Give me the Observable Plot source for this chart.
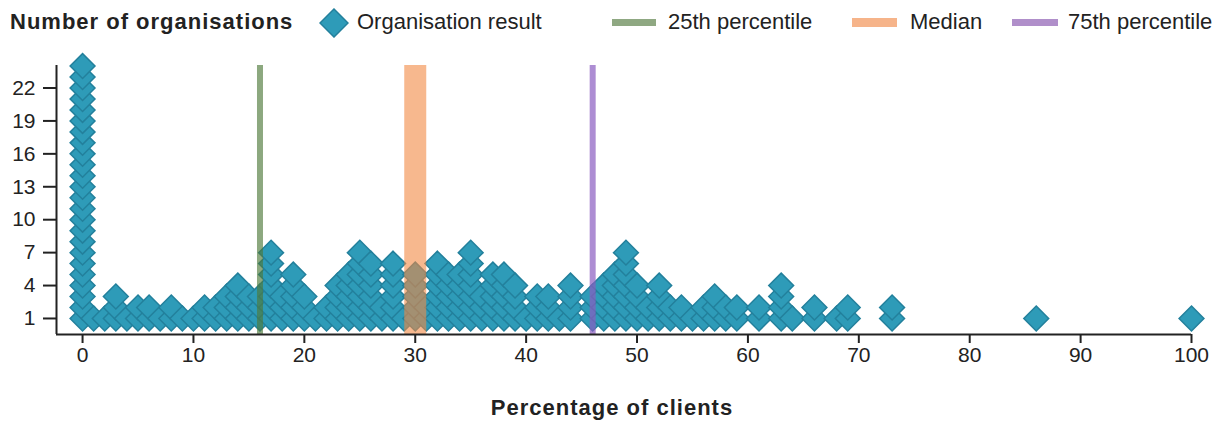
<!DOCTYPE html>
<html><head><meta charset="utf-8">
<script src="https://cdn.jsdelivr.net/npm/d3@7"></script>
<script src="https://cdn.jsdelivr.net/npm/@observablehq/plot@0.6"></script>
<style>
body{margin:0;background:#fff;font-family:"Liberation Sans",Arial,sans-serif;color:#222}
#wrap{position:relative;width:1231px;height:423px;overflow:hidden}
#legend{position:relative;height:45px;width:1231px}
.lg{position:absolute;top:9px;font-size:22px;line-height:26px;white-space:nowrap}
.sw{position:absolute}
#cap{position:absolute;left:0;top:395px;width:1224px;text-align:center;font-weight:bold;font-size:22px;line-height:26px;letter-spacing:1px}
</style></head>
<body><div id="wrap">
<div id="legend">
  <div class="lg" style="left:10px;font-weight:bold;letter-spacing:1px">Number of organisations</div>
  <svg class="sw" style="left:319px;top:8px" width="30" height="30"><polygon points="15,1 29,15 15,29 1,15" fill="#2e9bb8" stroke="#23809c" stroke-width="1.5"/></svg>
  <div class="lg" style="left:357px">Organisation result</div>
  <div class="sw" style="left:612px;top:19px;width:44px;height:7px;background:#8fa882"></div>
  <div class="lg" style="left:668px">25th percentile</div>
  <div class="sw" style="left:852px;top:18px;width:45px;height:9px;background:#f6b48a"></div>
  <div class="lg" style="left:910px">Median</div>
  <div class="sw" style="left:1012px;top:19px;width:46px;height:7px;background:#b08fca"></div>
  <div class="lg" style="left:1068px">75th percentile</div>
</div>
<div id="chart"></div>
<div id="cap">Percentage of clients</div>
</div>
<script>
// Organisation results (percentage of clients) and number of organisations at each value
const resultValues = [0,1,2,3,4,5,6,7,8,9,10,11,12,13,14,15,16,17,18,19,20,21,22,23,24,25,26,27,28,29,30,31,32,33,34,35,36,37,38,39,40,41,42,43,44,46,47,48,49,50,51,52,53,54,55,56,57,58,59,61,63,64,66,68,69,73,86,100];
const orgCounts    = [24,1,1,3,1,2,2,1,2,1,1,2,2,3,4,3,3,7,3,5,3,1,2,4,5,7,6,2,6,1,5,2,6,5,5,7,3,5,5,4,1,3,3,1,4,3,4,5,7,4,2,4,2,2,1,2,3,2,2,2,4,1,2,1,2,2,1,1];
const percentile25 = [16];
const median = [30];
const percentile75 = [46];
const xTicks = [0,10,20,30,40,50,60,70,80,90,100];
const yTicks = [1,4,7,10,13,16,19,22];
const xDomain = [-2.35, 100];
const yDomain = [-0.46, 24.05];

const points = [];
resultValues.forEach((v, i) => {
  for (let k = 1; k <= orgCounts[i]; k++) points.push({value: v, row: k});
});

const chart = Plot.plot({
  width: 1231, height: 340,
  marginLeft: 56, marginRight: 40, marginTop: 20, marginBottom: 51,
  style: {fontFamily: "Liberation Sans, Arial, sans-serif", fontSize: "21px", color: "#222", background: "#fff", overflow: "visible"},
  x: {domain: xDomain},
  y: {domain: yDomain},
  marks: [
    Plot.dot(points, {x: "value", y: "row", symbol: "diamond2", r: 11.2, fill: "#2e9bb8", stroke: "#23809c", strokeWidth: 1.5}),
    Plot.ruleX(percentile25, {stroke: "#4f7a3a", strokeWidth: 6, strokeOpacity: 0.65}),
    Plot.ruleX(median, {stroke: "#f28943", strokeWidth: 22, strokeOpacity: 0.6}),
    Plot.ruleX(percentile75, {stroke: "#8a5cc0", strokeWidth: 6, strokeOpacity: 0.7}),
    Plot.ruleX([xDomain[0]], {stroke: "#222", strokeWidth: 2}),
    Plot.ruleY([yDomain[0]], {stroke: "#222", strokeWidth: 2}),
    Plot.axisX({ticks: xTicks, tickSize: 9, tickPadding: 4, strokeWidth: 2, stroke: "#222", fill: "#222", label: null, fontSize: 21}),
    Plot.axisY({ticks: yTicks, tickSize: 13, tickPadding: 8, strokeWidth: 2, stroke: "#222", fill: "#222", label: null, fontSize: 21})
  ]
});
document.getElementById("chart").appendChild(chart);
</script>
</body></html>
